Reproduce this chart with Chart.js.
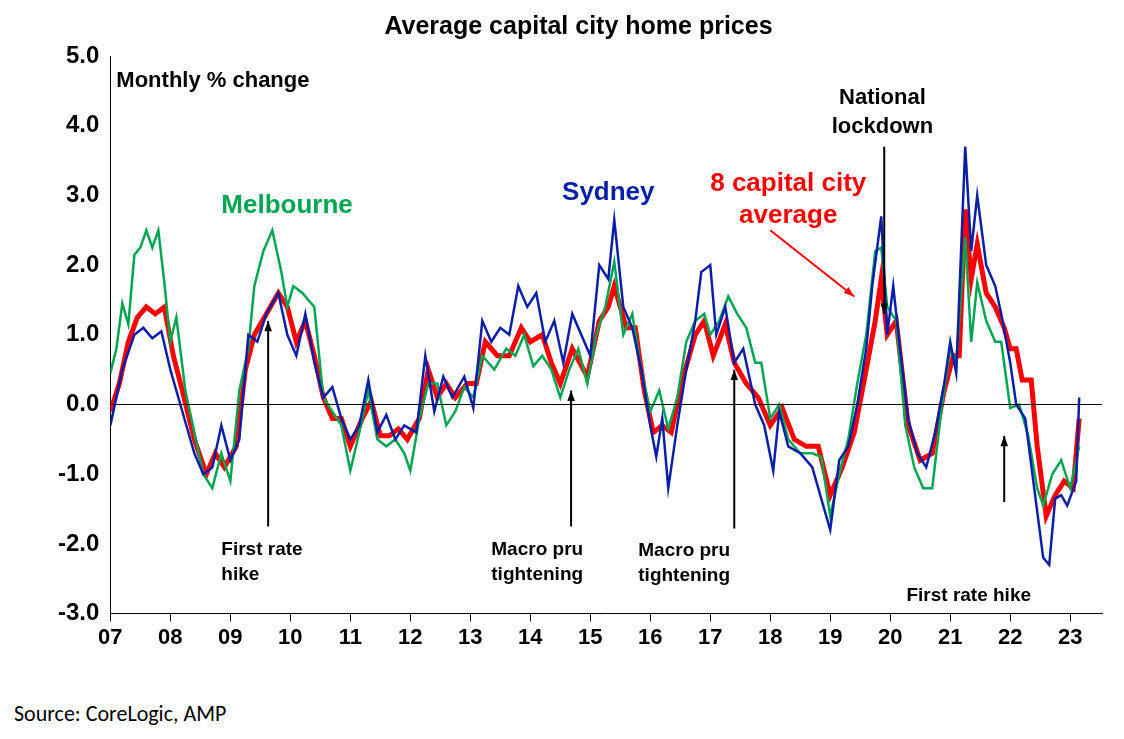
<!DOCTYPE html>
<html><head><meta charset="utf-8">
<script src="https://cdn.jsdelivr.net/npm/chart.js@4"></script>
<style>
body{margin:0;background:#fff;font-family:Arial,"Liberation Sans",sans-serif}
#wrap{position:relative;width:1124px;height:660px}
#src{position:absolute;left:14px;top:700px;font-family:Calibri,Carlito,"Open Sans",sans-serif;font-size:22px}
</style></head><body>
<div id="wrap"><canvas id="c"></canvas></div>
<div id="src">Source: CoreLogic, AMP</div>
<script>
const yearTicks = ["07","08","09","10","11","12","13","14","15","16","17","18","19","20","21","22","23"];
const sydney = [[2007.0,-0.3],[2007.2,0.5],[2007.4,1.0],[2007.55,1.1],[2007.7,0.95],[2007.85,1.05],[2008.0,0.5],[2008.2,-0.1],[2008.4,-0.7],[2008.55,-1.0],[2008.7,-0.9],[2008.85,-0.3],[2009.0,-0.8],[2009.15,-0.5],[2009.3,1.0],[2009.45,0.9],[2009.6,1.3],[2009.8,1.6],[2009.95,1.0],[2010.1,0.7],[2010.25,1.3],[2010.4,0.6],[2010.55,0.1],[2010.7,0.25],[2010.85,-0.2],[2011.0,-0.5],[2011.15,-0.3],[2011.3,0.35],[2011.45,-0.4],[2011.6,-0.15],[2011.75,-0.5],[2011.9,-0.3],[2012.1,-0.4],[2012.25,0.7],[2012.4,-0.1],[2012.55,0.4],[2012.7,0.1],[2012.9,0.4],[2013.05,-0.05],[2013.2,1.2],[2013.35,0.9],[2013.5,1.1],[2013.65,1.0],[2013.8,1.7],[2013.95,1.4],[2014.1,1.6],[2014.25,0.9],[2014.4,1.2],[2014.55,0.6],[2014.7,1.3],[2014.85,1.0],[2015.0,0.7],[2015.15,2.0],[2015.3,1.8],[2015.4,2.65],[2015.55,1.4],[2015.7,1.1],[2015.85,0.5],[2016.0,-0.3],[2016.1,-0.75],[2016.2,-0.2],[2016.3,-1.2],[2016.45,-0.3],[2016.6,0.5],[2016.75,1.2],[2016.85,1.9],[2017.0,2.0],[2017.1,1.0],[2017.25,1.4],[2017.4,0.6],[2017.55,0.8],[2017.75,0.0],[2017.9,-0.3],[2018.05,-0.95],[2018.15,-0.1],[2018.3,-0.6],[2018.5,-0.7],[2018.7,-0.9],[2018.9,-1.5],[2019.0,-1.8],[2019.15,-0.8],[2019.3,-0.6],[2019.45,0.0],[2019.6,0.8],[2019.7,1.7],[2019.85,2.7],[2019.95,1.0],[2020.05,1.7],[2020.15,0.9],[2020.3,-0.2],[2020.45,-0.7],[2020.6,-0.9],[2020.75,-0.4],[2020.9,0.3],[2021.0,0.9],[2021.1,0.45],[2021.25,3.7],[2021.35,2.2],[2021.45,3.0],[2021.6,2.0],[2021.75,1.7],[2021.85,1.3],[2022.0,0.6],[2022.1,0.0],[2022.25,-0.2],[2022.4,-1.2],[2022.55,-2.2],[2022.65,-2.3],[2022.75,-1.35],[2022.85,-1.3],[2022.95,-1.45],[2023.1,-1.1],[2023.15,0.1]];
const melbourne = [[2007.0,0.45],[2007.1,0.8],[2007.2,1.45],[2007.3,1.15],[2007.4,2.15],[2007.5,2.25],[2007.6,2.5],[2007.7,2.25],[2007.8,2.5],[2007.9,1.75],[2008.0,0.9],[2008.1,1.25],[2008.25,0.2],[2008.4,-0.4],[2008.55,-1.0],[2008.7,-1.2],[2008.85,-0.7],[2009.0,-1.1],[2009.15,0.2],[2009.3,0.8],[2009.4,1.7],[2009.55,2.2],[2009.7,2.5],[2009.85,1.9],[2009.95,1.4],[2010.05,1.7],[2010.2,1.6],[2010.4,1.4],[2010.55,0.1],[2010.7,-0.1],[2010.85,-0.3],[2011.0,-0.95],[2011.15,-0.4],[2011.3,0.2],[2011.45,-0.5],[2011.6,-0.6],[2011.75,-0.5],[2011.9,-0.7],[2012.0,-0.95],[2012.15,-0.2],[2012.3,0.3],[2012.45,0.3],[2012.6,-0.3],[2012.75,-0.1],[2012.9,0.25],[2013.05,0.1],[2013.2,0.7],[2013.4,0.5],[2013.6,0.8],[2013.75,0.7],[2013.9,1.0],[2014.05,0.55],[2014.2,0.7],[2014.35,0.5],[2014.5,0.1],[2014.65,0.5],[2014.8,0.8],[2014.95,0.3],[2015.1,1.0],[2015.25,1.4],[2015.4,2.05],[2015.55,1.0],[2015.7,1.3],[2015.85,0.5],[2016.0,-0.1],[2016.15,0.2],[2016.3,-0.35],[2016.45,0.1],[2016.6,0.9],[2016.75,1.2],[2016.9,1.3],[2017.0,1.0],[2017.15,1.2],[2017.3,1.55],[2017.45,1.3],[2017.6,1.1],[2017.75,0.6],[2017.85,0.6],[2018.0,-0.2],[2018.15,0.0],[2018.3,-0.5],[2018.5,-0.7],[2018.7,-0.7],[2018.85,-0.75],[2019.0,-1.6],[2019.15,-1.0],[2019.3,-0.5],[2019.45,0.3],[2019.6,1.0],[2019.75,2.2],[2019.85,2.25],[2019.95,1.4],[2020.1,1.2],[2020.25,-0.3],[2020.4,-0.9],[2020.55,-1.2],[2020.7,-1.2],[2020.85,-0.1],[2021.0,0.8],[2021.1,0.6],[2021.25,2.4],[2021.35,0.9],[2021.45,1.75],[2021.6,1.2],[2021.75,0.9],[2021.85,0.9],[2022.0,-0.05],[2022.15,0.0],[2022.3,-0.45],[2022.45,-1.2],[2022.55,-1.45],[2022.7,-1.0],[2022.85,-0.8],[2023.0,-1.2],[2023.15,-0.6]];
const avg8 = [[2007.0,-0.1],[2007.15,0.3],[2007.3,0.9],[2007.45,1.25],[2007.6,1.4],[2007.75,1.3],[2007.9,1.4],[2008.05,0.7],[2008.2,0.2],[2008.4,-0.5],[2008.6,-1.0],[2008.75,-0.7],[2008.9,-0.9],[2009.1,-0.6],[2009.25,0.5],[2009.4,1.0],[2009.6,1.3],[2009.8,1.6],[2009.95,1.4],[2010.1,0.9],[2010.25,1.2],[2010.4,0.7],[2010.55,0.1],[2010.7,-0.2],[2010.85,-0.2],[2011.0,-0.6],[2011.2,-0.2],[2011.35,0.05],[2011.5,-0.45],[2011.65,-0.45],[2011.8,-0.35],[2011.95,-0.5],[2012.15,-0.2],[2012.3,0.5],[2012.45,0.1],[2012.6,0.3],[2012.75,0.1],[2012.95,0.3],[2013.1,0.3],[2013.25,0.9],[2013.45,0.7],[2013.65,0.7],[2013.85,1.1],[2014.0,0.9],[2014.2,1.0],[2014.35,0.6],[2014.5,0.3],[2014.7,0.8],[2014.95,0.4],[2015.15,1.2],[2015.3,1.4],[2015.4,1.7],[2015.6,1.1],[2015.75,1.1],[2015.9,0.2],[2016.05,-0.4],[2016.2,-0.3],[2016.35,-0.4],[2016.55,0.4],[2016.75,1.0],[2016.9,1.2],[2017.05,0.7],[2017.25,1.15],[2017.4,0.6],[2017.6,0.3],[2017.8,0.1],[2018.0,-0.3],[2018.2,-0.05],[2018.4,-0.5],[2018.6,-0.6],[2018.8,-0.6],[2019.0,-1.3],[2019.2,-0.9],[2019.4,-0.4],[2019.6,0.5],[2019.75,1.2],[2019.85,1.8],[2019.95,1.0],[2020.1,1.2],[2020.3,-0.3],[2020.5,-0.8],[2020.7,-0.7],[2020.9,0.2],[2021.05,0.7],[2021.15,0.7],[2021.25,2.8],[2021.35,1.8],[2021.45,2.3],[2021.6,1.6],[2021.75,1.4],[2021.9,1.1],[2022.0,0.8],[2022.1,0.8],[2022.2,0.35],[2022.35,0.35],[2022.45,-0.6],[2022.6,-1.6],[2022.75,-1.3],[2022.9,-1.1],[2023.05,-1.2],[2023.15,-0.2]];

const pts = a => a.map(p => ({x: p[0], y: p[1]}));

// annotations in data coordinates: [year, value]
const notes = [
  {t:["Melbourne"], x:2008.85, y:2.85, c:"#00a651", a:"left", f:26},
  {t:["Sydney"], x:2015.3, y:3.03, c:"#0a1fa8", a:"center", f:26},
  {t:["8 capital city","average"], x:2018.3, y:3.16, c:"#ff0000", a:"center", f:26, lh:0.46},
  {t:["National","lockdown"], x:2019.87, y:4.4, c:"#000", a:"center", f:22, lh:0.42},
  {t:["First rate","hike"], x:2008.85, y:-2.08, c:"#000", a:"left", f:19, lh:0.36},
  {t:["Macro pru","tightening"], x:2013.35, y:-2.08, c:"#000", a:"left", f:19, lh:0.36},
  {t:["Macro pru","tightening"], x:2015.8, y:-2.1, c:"#000", a:"left", f:19, lh:0.36},
  {t:["First rate hike"], x:2020.27, y:-2.75, c:"#000", a:"left", f:19}
];
const arrows = [
  [2009.63,-1.75,2009.63,1.2,"#000"],
  [2014.68,-1.75,2014.68,0.2,"#000"],
  [2017.4,-1.78,2017.4,0.5,"#000"],
  [2019.9,3.7,2019.9,1.3,"#000"],
  [2021.9,-1.4,2021.9,-0.45,"#000"],
  [2018.0,2.5,2019.4,1.55,"#ff0000"]
];

const annot = {
  id:"annot",
  afterDraw(ch){
    const c = ch.ctx, xs = ch.scales.x, ys = ch.scales.y;
    c.save();
    c.strokeStyle="#000"; c.lineWidth=1;
    c.beginPath(); c.moveTo(xs.left, ys.getPixelForValue(0)); c.lineTo(xs.right, ys.getPixelForValue(0)); c.stroke();
    c.font="bold 22px Arial"; c.fillStyle="#000"; c.textAlign="left"; c.textBaseline="middle";
    c.fillText("Monthly % change", xs.left+6, ys.getPixelForValue(4.64));
    notes.forEach(n=>{
      c.font=`bold ${n.f}px Arial`; c.fillStyle=n.c; c.textAlign=n.a;
      n.t.forEach((s,i)=>c.fillText(s, xs.getPixelForValue(n.x), ys.getPixelForValue(n.y-i*(n.lh||0))));
    });
    arrows.forEach(a=>{
      const x1=xs.getPixelForValue(a[0]), y1=ys.getPixelForValue(a[1]);
      const x2=xs.getPixelForValue(a[2]), y2=ys.getPixelForValue(a[3]);
      c.strokeStyle=a[4]; c.fillStyle=a[4]; c.lineWidth=2;
      c.beginPath(); c.moveTo(x1,y1); c.lineTo(x2,y2); c.stroke();
      const ang=Math.atan2(y2-y1,x2-x1);
      c.beginPath(); c.moveTo(x2,y2);
      c.lineTo(x2-11*Math.cos(ang-0.35), y2-11*Math.sin(ang-0.35));
      c.lineTo(x2-11*Math.cos(ang+0.35), y2-11*Math.sin(ang+0.35));
      c.closePath(); c.fill();
    });
    c.restore();
  }
};

const ds = (d,col,w)=>({data:pts(d),borderColor:col,borderWidth:w,pointRadius:0,tension:0,fill:false});
new Chart(document.getElementById("c"),{
  type:"line",
  data:{datasets:[ds(sydney,"#0a1fa8",2.5),ds(melbourne,"#00a651",2.5),ds(avg8,"#ff0000",5)]},
  options:{
    responsive:true, maintainAspectRatio:false, animation:false,
    layout:{padding:{left:55,right:22,top:0,bottom:6}},
    plugins:{legend:{display:false},tooltip:{enabled:false},
      title:{display:true,text:"Average capital city home prices",color:"#000",font:{size:25,weight:"bold",family:"Arial"},padding:{top:12,bottom:14}}},
    scales:{
      x:{type:"linear",min:2007,max:2023.53,
        afterBuildTicks:s=>{s.ticks=yearTicks.map((t,i)=>({value:2007+i}));},
        ticks:{callback:(v,i)=>yearTicks[i],color:"#000",font:{size:22,weight:"bold",family:"Arial"},maxRotation:0,autoSkip:false},
        grid:{display:true,drawOnChartArea:false,color:"#000",tickLength:8},border:{color:"#000"}},
      y:{min:-3,max:5,
        ticks:{stepSize:1,callback:v=>v.toFixed(1),color:"#000",font:{size:24,weight:"bold",family:"Arial"}},
        grid:{display:false},border:{color:"#000"}}
    }
  },
  plugins:[annot]
});
</script>
</body></html>
